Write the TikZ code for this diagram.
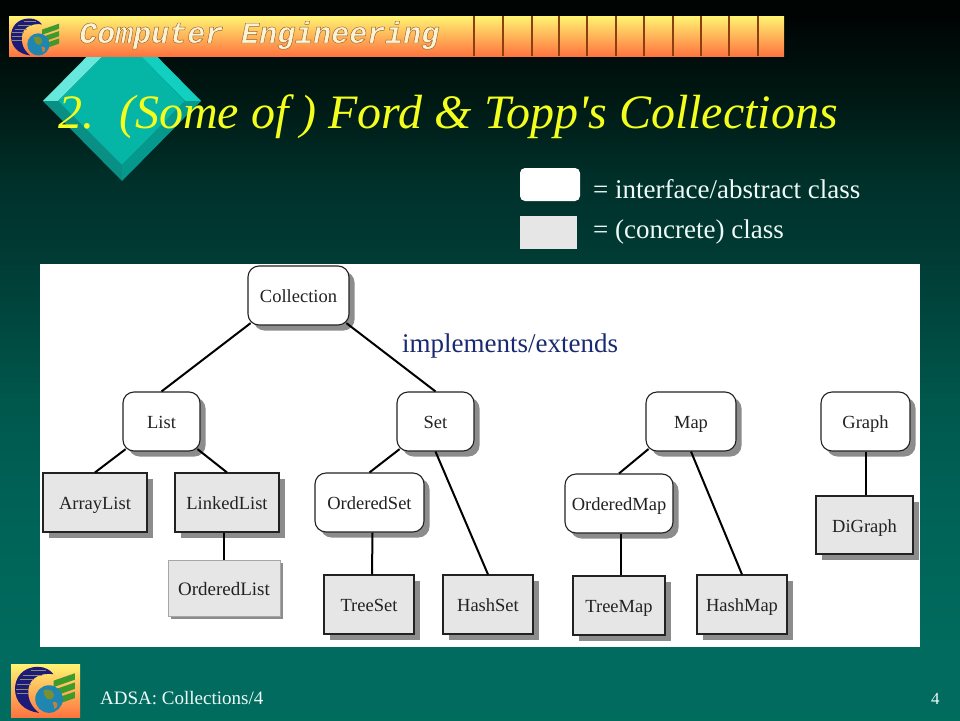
\documentclass[tikz,border=0pt]{standalone}
\usepackage{fontspec}
\setmainfont{Liberation Serif}
\newfontfamily\monofam{Liberation Mono}
\newfontfamily\plainserif{Liberation Serif}
\definecolor{bannertop}{HTML}{FFF472}
\definecolor{bannerbot}{HTML}{FF7440}
\definecolor{divider}{HTML}{8A4010}
\definecolor{nodefill}{HTML}{E6E6E6}
\definecolor{nodeink}{HTML}{222222}
\definecolor{shadowgrey}{HTML}{8C8C8C}
\definecolor{titleyellow}{HTML}{F4FF1E}
\definecolor{paleink}{HTML}{EEFBF8}
\definecolor{navy}{HTML}{1A2A72}
\definecolor{logoblue}{HTML}{1C1C78}
\definecolor{logogreen}{HTML}{3E9A2C}
\definecolor{globe}{HTML}{1E86B0}
\definecolor{facetA}{HTML}{66E8DD}
\definecolor{facetB}{HTML}{12CFC0}
\definecolor{facetC}{HTML}{0A8F85}
\definecolor{facetD}{HTML}{05998D}
\definecolor{facetE}{HTML}{05B5A5}
\definecolor{cream}{HTML}{FBF3D6}
\pgfdeclareverticalshading{slidebg}{100bp}{%
  rgb(0bp)=(0,.431,.376);
  rgb(29.9bp)=(0,.42,.369);
  rgb(40.3bp)=(0,.384,.341);
  rgb(47.2bp)=(0,.341,.298);
  rgb(57.6bp)=(0,.227,.2);
  rgb(62.5bp)=(0,.188,.165);
  rgb(68bp)=(0,.098,.078);
  rgb(73.6bp)=(0,.02,.016);
  rgb(100bp)=(0,0,0)}
\tikzset{
  x=1pt,y=-1pt,
  base box/.style={minimum height=59pt,inner sep=0pt,text height=16pt,text depth=2pt,font=\fontsize{18.5}{20}\selectfont,text=nodeink,draw=nodeink,line width=1.1pt},
  iface/.style={base box,fill=white,rounded corners=11pt,
    preaction={draw=none,fill=shadowgrey,rounded corners=11pt,transform canvas={xshift=5.5pt,yshift=-5.5pt}}},
  concrete/.style={base box,fill=nodefill,
    preaction={draw=none,fill=shadowgrey,transform canvas={xshift=6pt,yshift=-6pt}}},
  soft/.style={minimum height=56pt,minimum width=112pt,inner sep=0pt,text height=16pt,text depth=2pt,fill=nodefill,draw=black!35,line width=.8pt,
    font=\fontsize{19}{20}\selectfont,text=nodeink,
    preaction={draw=none,fill=black!45,transform canvas={xshift=2.5pt,yshift=-2.5pt}}},
  link/.style={draw=black,line width=2pt},
  cornerlink/.style={link,shorten <=-4pt},
  lab/.style={anchor=base west,inner sep=0pt,text=paleink},
}
\newcommand{\crestlogo}[3]{%
\begin{scope}[shift={(#1,#2)},scale=#3]
  \fill[logoblue] (25,2) .. controls (8,2) and (0,14) .. (0,26)
     .. controls (0,40) and (10,50) .. (26,52)
     .. controls (16,44) and (13,34) .. (15,24)
     .. controls (17,14) and (28,8) .. (42,10)
     .. controls (38,5) and (32,2) .. (25,2) -- cycle;
  \foreach \yy/\xa/\xb in {6/17/34,11/9/29,16/5/21,21/2/17,26/1/15,31/2/15}
    \draw[logoblue!50!bannertop,line width=.6pt] (\xa,\yy) -- (\xb,\yy);
  \foreach \yy in {0,10,20}
    \fill[logogreen] (42,17+\yy) -- (65,9+\yy) -- (65,16+\yy) -- (42,24+\yy) -- cycle;
  \fill[globe] (37,37) circle[radius=15];
  \fill[logogreen!70!bannerbot] (31,27) .. controls (39,25) and (45,30) .. (41,36) .. controls (37,40) and (31,36) .. (31,27) -- cycle;
  \fill[bannerbot!70!logogreen] (41,40) .. controls (47,39) and (48,45) .. (43,48) -- cycle;
\end{scope}}
\begin{document}
\begin{tikzpicture}
\useasboundingbox (0,0) rectangle (960,720);
% background
\fill[shading=slidebg] (0,0) rectangle (960,720);
% bullet diamond
\fill[facetA] (122,21) -- (43,101) -- (58,101) -- (122,37) -- cycle;
\fill[facetB] (122,21) -- (201,101) -- (185,101) -- (122,37) -- cycle;
\fill[facetC] (43,101) -- (122,181) -- (122,165) -- (58,101) -- cycle;
\fill[facetD] (201,101) -- (122,181) -- (122,165) -- (185,101) -- cycle;
\fill[facetE] (122,37) -- (185,101) -- (122,165) -- (58,101) -- cycle;
% banner
\fill[top color=bannertop,bottom color=bannerbot] (9,16) rectangle (784,56);
\foreach \xx in {474,503,532,559,587,616,644,673,701,729,758}
  \draw[divider,line width=1.6pt] (\xx,16) -- (\xx,56);
\crestlogo{11}{17}{.74}
\node[anchor=base west,inner sep=0pt,text=cream] at (79,43) {\monofam\bfseries\itshape\fontsize{30}{30}\selectfont\special{pdf:code 2 Tr 0.45 w 0.6 0.38 0.12 RG}Computer Engineering\special{pdf:code 0 Tr}};
% title
\node[anchor=base west,inner sep=0pt,text=titleyellow] at (58,128) {\fontsize{48}{50}\selectfont\itshape 2.};
\node[anchor=base west,inner sep=0pt,text=titleyellow] at (119,128) {\plainserif\fontsize{48}{50}\selectfont\itshape (Some of ) Ford \& Topp's Collections};
% legend
\fill[white,rounded corners=5pt] (520,168) rectangle (580,201);
\fill[nodefill] (520,216) rectangle (577,249);
\node[lab] at (593,198) {\fontsize{27}{29}\selectfont = interface/abstract class};
\node[lab] at (593,238) {\fontsize{27}{29}\selectfont = (concrete) class};
% panel
\fill[white] (40,264) rectangle (920,647);
\node[anchor=base west,inner sep=0pt,text=navy] at (402,352) {\fontsize{27}{29}\selectfont implements/extends};
% tree nodes
\node[iface,minimum width=101pt] (coll) at (298.5,295.5) {Collection};
\node[iface,minimum width=77pt] (list) at (161.5,421.5) {List};
\node[iface,minimum width=77pt] (set) at (435.5,421.5) {Set};
\node[iface,minimum width=90pt] (map) at (691,421.5) {Map};
\node[iface,minimum width=89pt] (graph) at (865.5,421.5) {Graph};
\node[concrete,minimum width=104pt] (alist) at (95,502.5) {ArrayList};
\node[concrete,minimum width=104pt] (llist) at (227,502.5) {LinkedList};
\node[iface,minimum width=109pt] (oset) at (369.5,502.5) {OrderedSet};
\node[iface,minimum width=108pt] (omap) at (619,503.5) {OrderedMap};
\node[concrete,minimum width=97pt,minimum height=58pt] (dig) at (864.5,525) {DiGraph};
\node[soft] (olist) at (224,588) {OrderedList};
\node[concrete,minimum width=90pt] (tset) at (369,604.5) {TreeSet};
\node[concrete,minimum width=90pt] (hset) at (488,604.5) {HashSet};
\node[concrete,minimum width=92pt] (tmap) at (619,605.5) {TreeMap};
\node[concrete,minimum width=90pt] (hmap) at (742,604.5) {HashMap};
% connectors
\draw[cornerlink] (coll.south west) -- (list.north);
\draw[cornerlink] (coll.south east) -- (set.north);
\draw[cornerlink] (list.south west) -- (alist.north);
\draw[cornerlink] (list.south east) -- (llist.north);
\draw[link] (olist.north) -- (olist.north |- llist.south);
\draw[cornerlink] (set.south west) -- (oset.north);
\draw[link] (set.south) -- (hset.north);
\draw[link] ([xshift=3pt]oset.south) -- ([xshift=3pt]tset.north);
\draw[cornerlink] (map.south west) -- (omap.north);
\draw[link] (map.south) -- (hmap.north);
\draw[link] ([xshift=2pt]omap.south) -- ([xshift=2pt]tmap.north);
\draw[link] (graph.south) -- (graph.south |- dig.north);
% footer
\fill[top color=bannertop,bottom color=bannerbot] (11,664) rectangle (80,717);
\crestlogo{15}{665}{.92}
\node[lab] at (100,704) {\fontsize{19}{21}\selectfont ADSA: Collections/4};
\node[lab] at (931,704) {\fontsize{17}{19}\selectfont 4};
\end{tikzpicture}
\end{document}
